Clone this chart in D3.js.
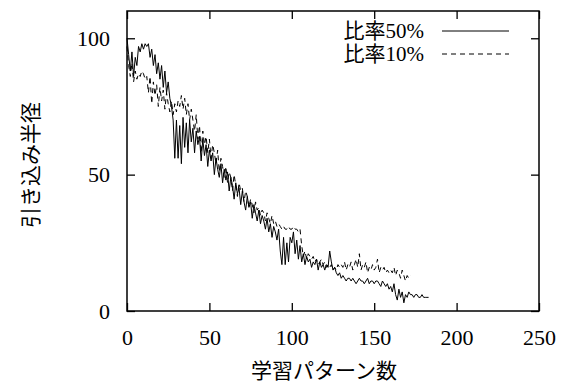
<!DOCTYPE html>
<html>
<head>
<meta charset="utf-8">
<script src="https://cdn.jsdelivr.net/npm/d3@7"></script>
<style>
  body { margin: 0; background: #fff; }
  svg text { font-family: "Liberation Serif", "Noto Sans CJK JP", serif; fill: #000; }
</style>
</head>
<body>
<svg class="Chart"></svg>
<script>
// 横軸は学習パターン数 (配列の添字がそのままパターン数)
var xTicks = [0, 50, 100, 150, 200, 250];
var yTicks = [0, 50, 100];
var seriesNames = ["比率50%", "比率10%"];

// 比率50% (実線)
var ratio50 = [
    100, 94, 88, 95, 86, 93, 90, 97, 95, 98,
    96, 98, 97, 98, 93, 96, 90, 94, 87, 91,
    85, 90, 82, 88, 80, 84, 78, 75, 70, 56,
    70, 56, 68, 54, 71, 60, 69, 58, 70, 62,
    67, 58, 66, 61, 64, 55, 63, 57, 61, 53,
    59, 55, 58, 50, 56, 52, 49, 54, 47, 52,
    48, 51, 44, 49, 46, 41, 47, 43, 45, 39,
    44, 40, 37, 42, 38, 40, 34, 39, 36, 33,
    37, 32, 35, 33, 30, 34, 29, 32, 27, 31,
    29, 26, 30, 22, 17, 27, 17, 25, 18, 27,
    25, 29, 21, 26, 19, 24, 18, 21, 17, 20,
    18, 19, 16, 18, 17, 19, 15, 18, 16, 17,
    15, 17, 16, 22, 18, 15, 16, 14, 13, 14,
    12, 13, 12, 11, 12, 12, 11, 12, 11, 10,
    11, 12, 11, 11, 10, 11, 12, 10, 11, 11,
    10, 11, 11, 10, 9, 11, 10, 9, 10, 8,
    9, 7, 10, 6, 4, 8, 5, 7, 3, 6,
    5, 7, 6, 6, 5, 6, 6, 5, 5, 6,
    5, 5, 5, 5
];

// 比率10% (破線)
var ratio10 = [
    97, 90, 86, 91, 84, 88, 85, 87, 86, 88,
    87, 85, 86, 80, 86, 76, 84, 79, 83, 75,
    82, 77, 81, 74, 80, 76, 73, 77, 72, 76,
    73, 77, 75, 79, 74, 78, 72, 76, 70, 74,
    70, 66, 72, 63, 68, 58, 66, 61, 64, 58,
    63, 56, 61, 58, 54, 59, 51, 56, 53, 49,
    53, 47, 51, 49, 44, 50, 46, 42, 47, 44,
    45, 40, 44, 42, 38, 41, 39, 36, 40, 37,
    38, 35, 37, 36, 33, 36, 34, 32, 35, 32,
    33, 31, 32, 31, 30, 31, 30, 30, 31, 30,
    30, 31, 30, 30, 29, 30, 24, 20, 22, 19,
    21, 20, 19, 20, 18, 19, 17, 18, 19, 17,
    18, 16, 17, 16, 17, 15, 16, 15, 17, 16,
    17, 16, 18, 15, 17, 16, 18, 15, 17, 19,
    16, 21, 15, 17, 16, 18, 14, 16, 15, 17,
    15, 16, 19, 14, 16, 15, 16, 14, 15, 14,
    15, 14, 16, 13, 15, 14, 12, 15, 13, 11,
    13, 12, 13
];

function drawChart(){
    let width = 572, height = 385;
    let margin = {top: 11, right: 33, bottom: 74, left: 127};
    let w = width - margin.left - margin.right,
        h = height - margin.top - margin.bottom;

    let svg = d3.select(".Chart")
        .attr("width", width)
        .attr("height", height);
    let g = svg.append("g")
        .attr("transform", "translate(" + margin.left + "," + margin.top + ")");

    let x = d3.scaleLinear().domain([0, 250]).range([0, w]);
    let y = d3.scaleLinear().domain([0, 110]).range([h, 0]);

    // 目盛りは枠の内側向き (gnuplot風)
    let bottom = g.append("g")
        .attr("transform", "translate(0," + h + ")")
        .call(d3.axisBottom(x).tickValues(xTicks).tickSize(-8).tickPadding(18));
    let top = g.append("g")
        .call(d3.axisTop(x).tickValues(xTicks).tickSize(-8).tickFormat(""));
    let left = g.append("g")
        .call(d3.axisLeft(y).tickValues(yTicks).tickSize(-8).tickPadding(17));
    let right = g.append("g")
        .attr("transform", "translate(" + w + ",0)")
        .call(d3.axisRight(y).tickValues(yTicks).tickSize(-8).tickFormat(""));

    [bottom, top, left, right].forEach(a => {
        a.attr("font-family", null).attr("font-size", null);
        a.select(".domain").remove();
        a.selectAll("line").attr("stroke", "#000").attr("stroke-width", 1.3);
        a.selectAll("text").attr("font-size", 22);
    });

    let line = d3.line()
        .x((d, i) => x(i))
        .y(d => y(d));

    g.append("path")
        .datum(ratio50)
        .attr("fill", "none")
        .attr("stroke", "#000")
        .attr("stroke-width", 1)
        .attr("d", line);

    g.append("path")
        .datum(ratio10)
        .attr("fill", "none")
        .attr("stroke", "#000")
        .attr("stroke-width", 1)
        .attr("stroke-dasharray", "5,4")
        .attr("d", line);

    g.append("rect")
        .attr("width", w)
        .attr("height", h)
        .attr("fill", "none")
        .attr("stroke", "#000")
        .attr("stroke-width", 1.5);

    // 凡例
    let legend = svg.append("g").selectAll("g")
        .data(seriesNames)
        .join("g")
        .attr("transform", (d, i) => "translate(0," + (31 + i * 23) + ")");
    legend.append("text")
        .attr("x", 424)
        .attr("dy", "0.35em")
        .attr("text-anchor", "end")
        .attr("font-size", 21)
        .text(d => d);
    legend.append("line")
        .attr("x1", 442)
        .attr("x2", 509)
        .attr("stroke", "#000")
        .attr("stroke-width", 1)
        .attr("stroke-dasharray", (d, i) => i == 0 ? null : "5,4");

    svg.append("text")
        .attr("x", 324)
        .attr("y", 371)
        .attr("dy", "0.35em")
        .attr("text-anchor", "middle")
        .attr("font-size", 21)
        .text("学習パターン数");

    svg.append("text")
        .attr("transform", "translate(31,165)rotate(-90)")
        .attr("dy", "0.35em")
        .attr("text-anchor", "middle")
        .attr("font-size", 21)
        .text("引き込み半径");
}

drawChart();
</script>
</body>
</html>
